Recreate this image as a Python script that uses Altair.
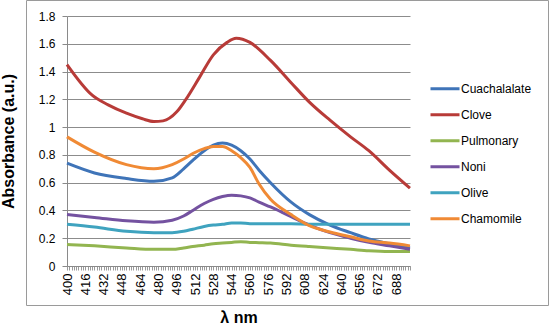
import altair as alt
import pandas as pd

# ---- data ----
wavelengths = [400, 424, 452, 476, 492, 502, 510, 520, 528, 536, 544, 552, 560, 568, 578, 596, 612, 630, 648, 664, 682, 700]
cuachalalate = [0.74, 0.67, 0.63, 0.61, 0.635, 0.70, 0.76, 0.83, 0.87, 0.885, 0.87, 0.83, 0.77, 0.69, 0.60, 0.46, 0.37, 0.295, 0.24, 0.195, 0.16, 0.13]
chamomile = [0.93, 0.82, 0.73, 0.70, 0.73, 0.77, 0.81, 0.845, 0.86, 0.86, 0.83, 0.78, 0.71, 0.59, 0.48, 0.37, 0.29, 0.245, 0.21, 0.18, 0.165, 0.145]
noni = [0.37, 0.35, 0.325, 0.315, 0.33, 0.36, 0.40, 0.45, 0.48, 0.50, 0.51, 0.505, 0.49, 0.46, 0.425, 0.355, 0.295, 0.24, 0.20, 0.17, 0.145, 0.12]
olive = [0.30, 0.28, 0.25, 0.24, 0.24, 0.25, 0.265, 0.285, 0.295, 0.30, 0.31, 0.31, 0.305, 0.305, 0.305, 0.305, 0.30, 0.30, 0.30, 0.30, 0.30, 0.30]
pulmonary = [0.155, 0.145, 0.13, 0.12, 0.12, 0.13, 0.14, 0.15, 0.16, 0.165, 0.17, 0.175, 0.17, 0.168, 0.165, 0.15, 0.14, 0.13, 0.12, 0.11, 0.105, 0.105]

clove_wavelengths = [400, 422, 436, 452, 466, 476, 484, 496, 504, 516, 528, 540, 548, 560, 578, 596, 612, 630, 648, 664, 682, 700]
clove = [1.45, 1.23, 1.16, 1.10, 1.06, 1.04, 1.045, 1.11, 1.20, 1.36, 1.52, 1.61, 1.64, 1.61, 1.48, 1.32, 1.18, 1.05, 0.93, 0.83, 0.69, 0.56]

series_names = ["Cuachalalate", "Clove", "Pulmonary", "Noni", "Olive", "Chamomile"]
series_colors = ["#3F74B8", "#B83B38", "#92B550", "#7452A0", "#3FA3BF", "#F08A35"]

y_ticks = [0, 0.2, 0.4, 0.6, 0.8, 1.0, 1.2, 1.4, 1.6, 1.8]
x_ticks = list(range(400, 701, 2))

rows = []
for name, vals in [("Cuachalalate", cuachalalate), ("Pulmonary", pulmonary), ("Noni", noni),
                   ("Olive", olive), ("Chamomile", chamomile)]:
    for w, v in zip(wavelengths, vals):
        rows.append({"wl": w, "abs": v, "series": name, "order": series_names.index(name)})
for w, v in zip(clove_wavelengths, clove):
    rows.append({"wl": w, "abs": v, "series": "Clove", "order": 1})
df = pd.DataFrame(rows)

lines = alt.Chart(df).mark_line(strokeWidth=3, interpolate="monotone").encode(
    x=alt.X("wl:Q",
            scale=alt.Scale(domain=[400, 700], nice=False, zero=False),
            axis=alt.Axis(values=x_ticks, labelAngle=-90, labelOverlap=False,
                          labelExpr="(datum.value - 400) % 16 == 0 && datum.value < 700 ? datum.value : ''",
                          grid=False, tickSize=4, tickColor="#9a9a9a", domainColor="#8a8a8a",
                          labelFontSize=13, labelPadding=3, labelColor="#000000",
                          title="λ nm", titleFontSize=16, titleFontWeight="bold",
                          titlePadding=15, titleColor="#000000", labelFont="Liberation Sans",
                          titleFont="Liberation Sans")),
    y=alt.Y("abs:Q",
            scale=alt.Scale(domain=[0, 1.8], nice=False),
            axis=alt.Axis(values=y_ticks, format=".1~f", grid=True, gridColor="#8c8c8c",
                          tickSize=5, tickColor="#8a8a8a", domainColor="#8a8a8a",
                          labelFontSize=12, labelPadding=7, labelColor="#000000",
                          title="Absorbance (a.u.)", titleFontSize=16, titleFontWeight="bold",
                          titlePadding=22, titleColor="#000000", labelFont="Liberation Sans",
                          titleFont="Liberation Sans")),
    color=alt.Color("series:N",
                    scale=alt.Scale(domain=series_names, range=series_colors),
                    sort=series_names,
                    legend=alt.Legend(title=None, orient="none", legendX=362, legendY=60,
                                      symbolType="stroke", symbolSize=841, symbolStrokeWidth=3,
                                      clipHeight=25.6, rowPadding=0, labelOffset=0, labelFontSize=12,
                                      labelFont="Liberation Sans", labelColor="#000000")),
    order=alt.Order("order:Q"),
)

border = alt.Chart(alt.Data(values=[{}])).mark_rect(
    fill=None, stroke="#9a9a9a", strokeWidth=1
).encode(
    x=alt.value(-40.5), x2=alt.value(481.5), y=alt.value(-15.5), y2=alt.value(289.5)
)

chart = alt.layer(border, lines).properties(
    width=343, height=250,
    autosize=alt.AutoSizeParams(type="none"),
    padding={"left": 67, "top": 16, "right": 140, "bottom": 61},
    background="white",
).configure_view(stroke=None)

chart.save("out.html", embed_options={"renderer": "svg", "actions": False})
